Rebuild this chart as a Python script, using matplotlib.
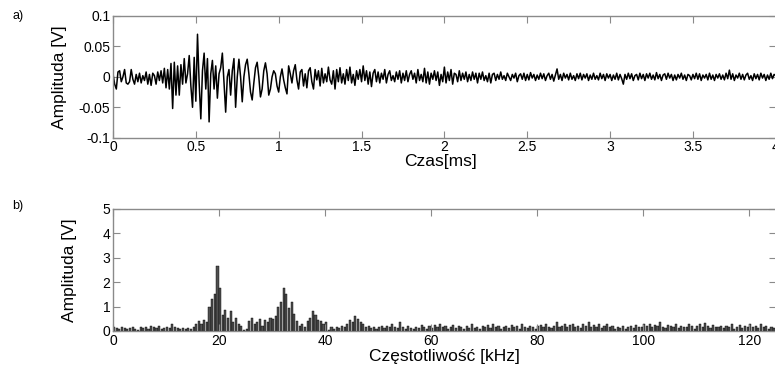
import numpy as np
import matplotlib.pyplot as plt

plt.rcParams['font.family'] = ['Liberation Sans', 'DejaVu Sans']

# a) signal, sampled every 0.01 ms, values read off the picture [V]
dt = 0.01
sig = [
    0.005, -0.012, -0.02, 0.008, 0.01, -0.008, 0.0, 0.012, -0.01, -0.012,
    -0.008, 0.012, -0.004, -0.012, 0.004, -0.008, 0.006, -0.01, 0.002, -0.006,
    0.008, -0.012, 0.004, -0.014, 0.006, 0.002, -0.012, 0.008, -0.006, 0.01,
    -0.01, 0.014, -0.018, 0.012, -0.02, 0.022, -0.052, 0.024, -0.03, 0.018,
    -0.03, 0.02, -0.012, 0.03, -0.01, 0.005, 0.035, -0.015, -0.05, 0.032,
    -0.04, 0.07, -0.01, -0.069, 0.01, 0.039, -0.02, 0.03, -0.074, 0.005,
    0.027, -0.02, 0.018, -0.035, 0.005, 0.015, 0.039, -0.01, -0.058, 0.0,
    0.012, -0.03, 0.01, 0.03, -0.05, 0.0, 0.029, 0.0, -0.041, 0.0,
    0.02, 0.029, 0.005, -0.025, -0.038, -0.01, 0.015, 0.024, 0.0, -0.033,
    -0.02, 0.01, 0.023, 0.005, -0.03, -0.02, 0.0, 0.01, 0.005, -0.015,
    -0.025, 0.0, 0.013, -0.005, -0.018, -0.028, 0.018, 0.005, -0.01, 0.01,
    0.02, -0.005, -0.02, 0.008, 0.012, -0.015, 0.005, -0.018, 0.01, 0.015,
    -0.008, -0.02, 0.012, -0.005, 0.01, -0.015, 0.014, -0.01, 0.005, -0.008,
    0.016, -0.005, -0.012, 0.01, -0.02, 0.012, -0.008, 0.015, -0.01, 0.005,
    -0.012, 0.012, -0.006, 0.016, -0.01, 0.004, -0.014, 0.01, -0.004, 0.012,
    -0.008, 0.018, -0.006, 0.01, -0.012, 0.008, -0.016, 0.006, 0.012, -0.008,
    0.008, -0.01, 0.006, -0.004, 0.012, -0.01, 0.004, 0.01, -0.006, 0.002,
    -0.008, 0.008, -0.004, 0.01, -0.01, 0.006, -0.006, 0.01, -0.008, 0.004,
    0.01, -0.004, 0.006, -0.01, 0.012, -0.006, 0.004, -0.008, 0.014, -0.01,
    0.008, -0.012, 0.006, -0.004, 0.01, -0.006, 0.008, -0.014, 0.004, -0.008,
    0.016, -0.01, 0.008, -0.006, 0.012, -0.012, 0.006, 0.004, -0.008, 0.01,
    -0.006, 0.006, -0.004, 0.008, -0.008, 0.004, -0.006, 0.008, -0.004, 0.006,
    -0.01, 0.006, -0.004, 0.008, -0.006, 0.002, -0.008, 0.006, -0.01, 0.004,
    0.006, -0.006, 0.004, -0.004, 0.008, -0.004, 0.002, -0.006, 0.006, 0.0,
    -0.006, 0.004, -0.002, 0.006, -0.008, 0.002, 0.005, -0.004, 0.006, -0.006,
    0.004, -0.005, 0.007, -0.002, 0.004, -0.006, 0.003, -0.004, 0.006, -0.003,
    0.005, -0.006, 0.002, 0.006, -0.004, 0.004, -0.007, 0.003, 0.013, -0.004,
    0.004, -0.006, 0.006, -0.002, 0.004, -0.005, 0.006, -0.004, 0.002, -0.006,
    0.005, -0.003, 0.006, -0.005, 0.004, -0.002, 0.005, -0.006, 0.003, -0.004,
    0.006, -0.004, 0.002, -0.005, 0.006, -0.003, 0.004, -0.006, 0.005, -0.002,
    0.004, -0.006, 0.003, -0.004, 0.006, -0.005, 0.004, -0.003, -0.012, 0.004,
    -0.004, 0.006, -0.003, 0.005, -0.006, 0.002, 0.004, -0.005, 0.006, -0.003,
    0.004, -0.006, 0.005, -0.002, 0.006, -0.004, 0.003, -0.005, 0.007, -0.003,
    0.004, -0.006, 0.003, 0.005, -0.004, 0.006, -0.002, 0.004, -0.006, 0.003,
    -0.005, 0.004, -0.002, 0.006, -0.004, 0.003, -0.006, 0.004, 0.002, -0.005,
    0.004, -0.003, 0.006, -0.004, 0.005, -0.006, 0.003, -0.002, 0.004, -0.005,
    0.006, -0.004, 0.003, -0.006, 0.004, -0.002, 0.005, -0.004, 0.003, -0.005,
    0.006, -0.003, 0.011, -0.004, 0.005, -0.006, 0.003, -0.002, 0.006, -0.004,
    0.004, -0.005, 0.003, 0.006, -0.004, 0.002, -0.006, 0.005, -0.003, 0.004,
    -0.005, 0.006, -0.002, 0.004, -0.006, 0.003, -0.004, 0.006, -0.003, 0.004,
    0.002,
]

# b) spectrum, one bar every 0.5 kHz [V]
df = 0.5
spec = [
    0.15, 0.12, 0.1, 0.15, 0.14, 0.08, 0.12, 0.16, 0.1, 0.05,
    0.18, 0.12, 0.15, 0.1, 0.22, 0.15, 0.12, 0.2, 0.1, 0.14,
    0.18, 0.12, 0.3, 0.15, 0.12, 0.1, 0.14, 0.09, 0.12, 0.1,
    0.15, 0.3, 0.4, 0.28, 0.45, 0.35, 1.0, 1.3, 1.5, 2.65,
    1.75, 0.65, 0.85, 0.55, 0.8, 0.35, 0.55, 0.3, 0.2, 0.05,
    0.08, 0.4, 0.55, 0.3, 0.35, 0.5, 0.2, 0.45, 0.35, 0.55,
    0.5, 0.6, 1.0, 1.2, 1.75, 1.5, 0.95, 1.2, 0.7, 0.4,
    0.2, 0.3, 0.15, 0.4, 0.55, 0.8, 0.65, 0.45, 0.4, 0.3,
    0.35, 0.05, 0.15, 0.1, 0.18, 0.12, 0.2, 0.15, 0.3, 0.45,
    0.35, 0.6, 0.5, 0.35, 0.3, 0.15, 0.2, 0.12, 0.18, 0.1,
    0.15, 0.22, 0.12, 0.2, 0.15, 0.3, 0.18, 0.12, 0.38, 0.15,
    0.1, 0.2, 0.14, 0.08, 0.18, 0.12, 0.25, 0.15, 0.1, 0.2,
    0.12, 0.25, 0.18, 0.3, 0.15, 0.22, 0.1, 0.18, 0.25, 0.12,
    0.2, 0.15, 0.1, 0.22, 0.14, 0.28, 0.12, 0.18, 0.1, 0.2,
    0.15, 0.25, 0.12, 0.3, 0.18, 0.22, 0.1, 0.15, 0.2, 0.12,
    0.25, 0.15, 0.2, 0.1, 0.28, 0.18, 0.12, 0.22, 0.15, 0.1,
    0.2, 0.25, 0.15, 0.3, 0.18, 0.12, 0.22, 0.35, 0.15, 0.2,
    0.28, 0.18, 0.25, 0.3, 0.15, 0.22, 0.12, 0.28, 0.2, 0.38,
    0.15, 0.25, 0.18, 0.3, 0.12, 0.22, 0.28, 0.15, 0.2, 0.1,
    0.18, 0.12, 0.22, 0.08, 0.15, 0.2, 0.12, 0.25, 0.18, 0.15,
    0.28, 0.2, 0.3, 0.15, 0.25, 0.22, 0.35, 0.18, 0.12, 0.25,
    0.2, 0.15, 0.28, 0.12, 0.22, 0.18, 0.15, 0.3, 0.2, 0.1,
    0.22, 0.28, 0.15, 0.32, 0.2, 0.12, 0.25, 0.18, 0.15, 0.22,
    0.12, 0.2, 0.15, 0.28, 0.1, 0.18, 0.25, 0.12, 0.2, 0.15,
    0.3, 0.18, 0.22, 0.12, 0.28, 0.15, 0.2, 0.1, 0.18, 0.12,
]

t = np.arange(len(sig)) * dt
f = np.arange(len(spec)) * df

fig = plt.figure(figsize=(7.75, 3.65), dpi=100)
ax1 = fig.add_axes([0.1458, 0.6227, 0.8552, 0.3335])
ax2 = fig.add_axes([0.1458, 0.0932, 0.8552, 0.3342])

spine_col = '#8a8a8a'

ax1.plot(t, sig, color='black', lw=1.1)
ax1.set_xlim(0, 4)
ax1.set_ylim(-0.1, 0.1)
ax1.set_xticks(np.arange(0, 4.01, 0.5))
ax1.set_xticklabels(['0', '0.5', '1', '1.5', '2', '2.5', '3', '3.5', '4'])
ax1.set_yticks([-0.1, -0.05, 0, 0.05, 0.1])
ax1.set_yticklabels(['-0.1', '-0.05', '0', '0.05', '0.1'])
ax1.set_xlabel('Czas[ms]', fontsize=12.5)
ax1.set_ylabel('Amplituda [V]', fontsize=12.5)
ax1.xaxis.set_label_coords(0.494, -0.13)
ax1.yaxis.set_label_coords(-0.07, 0.5)

ax2.bar(f, spec, width=0.4, align='edge', color='#505050',
        edgecolor='black', linewidth=0.3)
ax2.set_xlim(0, 125)
ax2.set_ylim(0, 5)
ax2.set_xticks(np.arange(0, 121, 20))
ax2.set_yticks(np.arange(0, 6, 1))
ax2.set_xlabel('Częstotliwość [kHz]', fontsize=12.5)
ax2.set_ylabel('Amplituda [V]', fontsize=12.5)
ax2.xaxis.set_label_coords(0.5, -0.145)
ax2.yaxis.set_label_coords(-0.055, 0.5)

for ax in (ax1, ax2):
    for s in ax.spines.values():
        s.set_color(spine_col)
        s.set_linewidth(1.0)
    ax.tick_params(direction='in', top=True, right=True, length=5,
                   color=spine_col, labelsize=10, pad=2)

fig.text(0.016, 0.955, 'a)', fontsize=9, va='center')
fig.text(0.016, 0.435, 'b)', fontsize=9, va='center')

fig.savefig('out.png', dpi=100)
